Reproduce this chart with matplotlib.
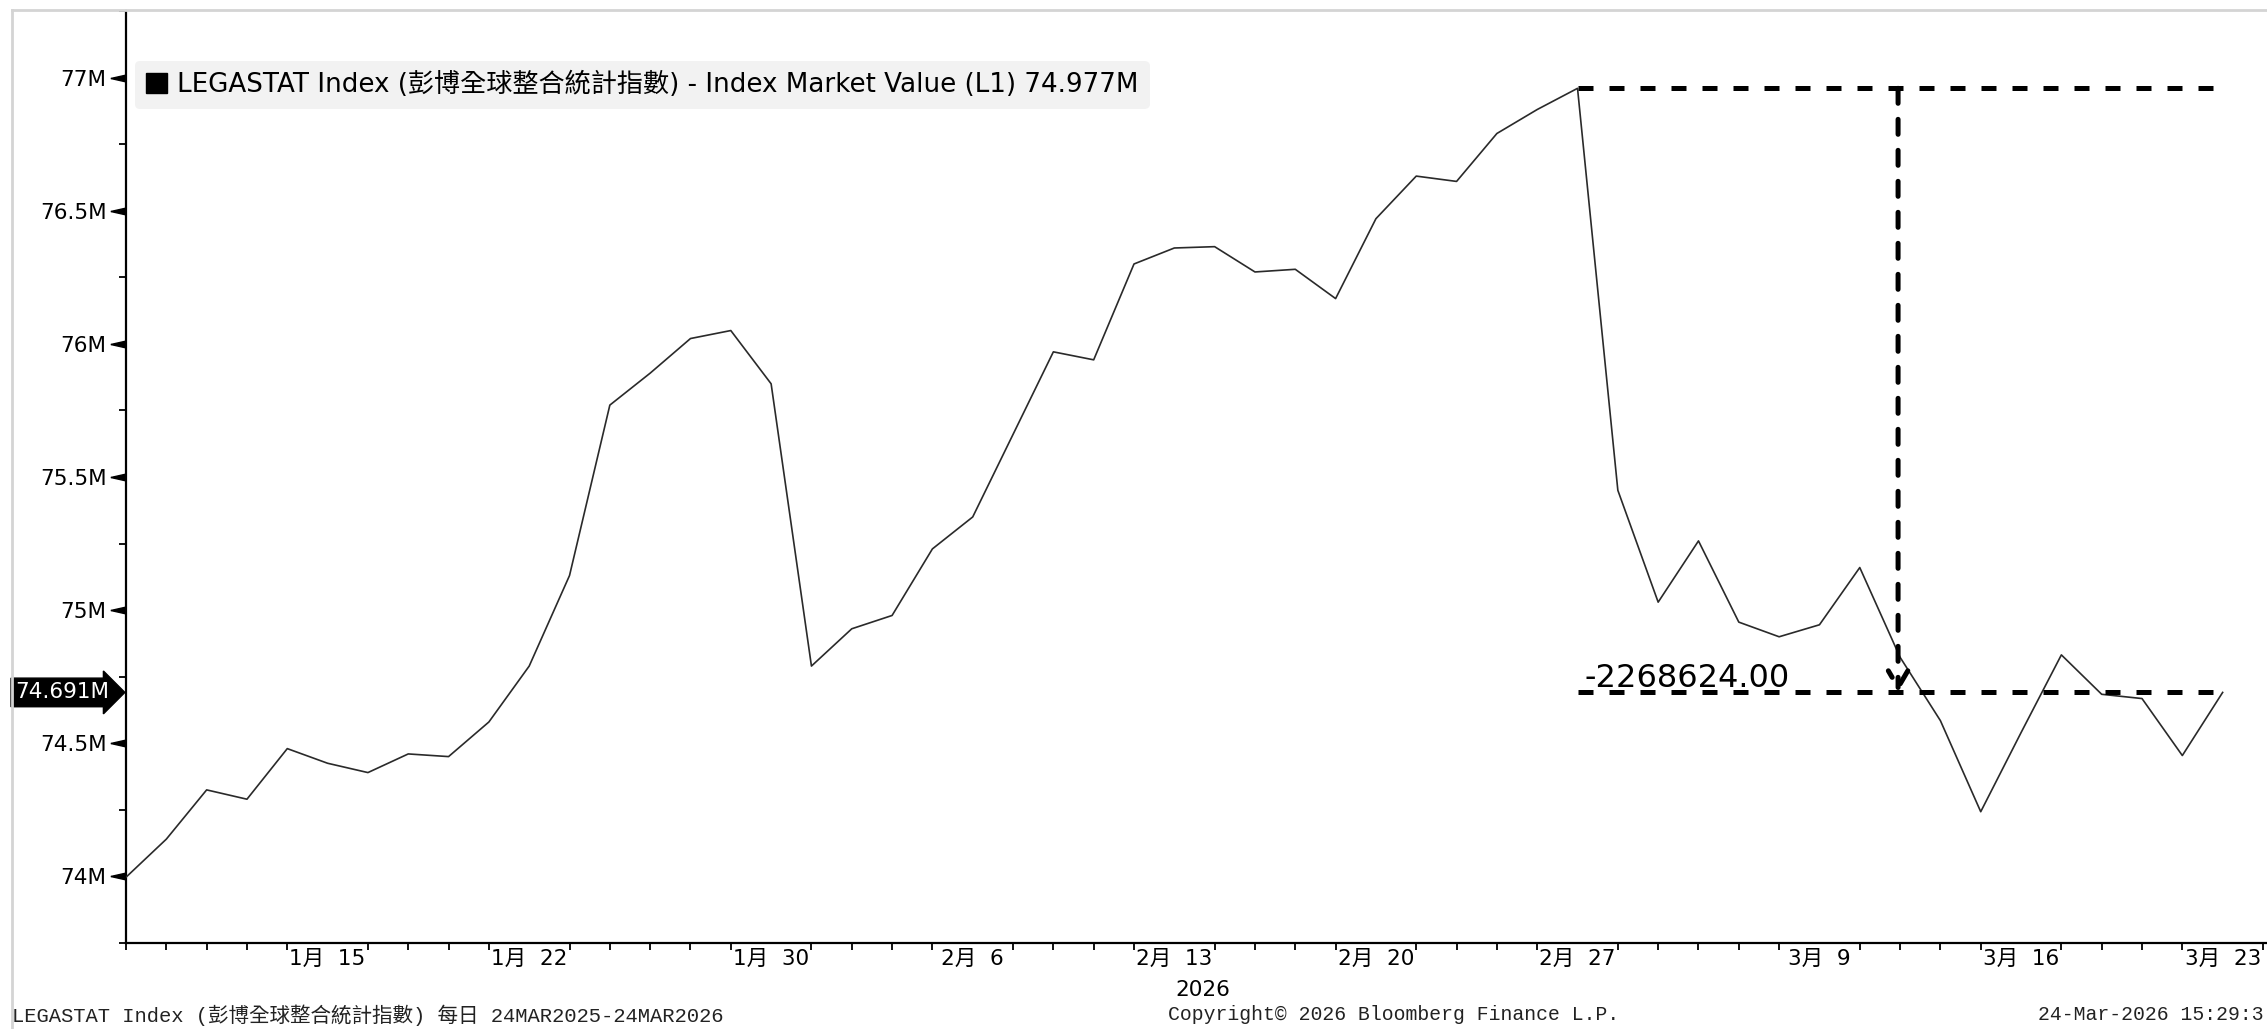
import matplotlib
matplotlib.use("Agg")
import matplotlib.pyplot as plt
import numpy as np
import pandas as pd
from matplotlib.lines import Line2D
from matplotlib.patches import Patch

plt.rcParams['font.family'] = ['DejaVu Sans', 'Noto Sans CJK TC']

# trading days shown on the chart
dates = pd.bdate_range("2026-01-08", "2026-03-23")

# index market value, millions
values = [
    73.997, 74.14, 74.325, 74.29, 74.48, 74.425, 74.39, 74.46, 74.45, 74.58,
    74.79, 75.13, 75.77, 75.89, 76.02, 76.05, 75.85, 74.79, 74.93, 74.98,
    75.23, 75.35, 75.66, 75.97, 75.94, 76.30, 76.36, 76.365, 76.27, 76.28,
    76.17, 76.47, 76.63, 76.61, 76.79, 76.88, 76.959624, 75.45, 75.03, 75.26,
    74.955, 74.90, 74.945, 75.16, 74.823, 74.585, 74.243, 74.54, 74.832, 74.684,
    74.668, 74.454, 74.691,
]

label_dates = ["2026-01-15", "2026-01-22", "2026-01-30", "2026-02-06", "2026-02-13",
               "2026-02-20", "2026-02-27", "2026-03-09", "2026-03-16", "2026-03-23"]
ytick_vals = [74, 74.5, 75, 75.5, 76, 76.5, 77]

legend_text = "LEGASTAT Index (彭博全球整合統計指數) - Index Market Value (L1) 74.977M"
footer_left = "LEGASTAT Index (彭博全球整合統計指數) 每日 24MAR2025-24MAR2026"
footer_mid = "Copyright© 2026 Bloomberg Finance L.P."
footer_right = "24-Mar-2026 15:29:3"

W, H = 2267, 1029
fig = plt.figure(figsize=(W / 100, H / 100), dpi=100)
ax = fig.add_axes([126 / W, 1 - 943 / H, (W - 126) / W, (943 - 11) / H])

x = np.arange(len(values))
ax.plot(x, values, color="#2a2a2a", lw=1.2, zorder=3)

ax.set_xlim(0.23, 53.1)
ax.set_ylim(73.822, 77.202)

for s in ["top", "right"]:
    ax.spines[s].set_visible(False)
for s in ["left", "bottom"]:
    ax.spines[s].set_linewidth(1.6)
    ax.spines[s].set_color("black")

# y axis: labels with small triangle markers, minor ticks between
ax.set_yticks(ytick_vals)
ax.set_yticklabels([f"{v:g}M" for v in ytick_vals])
ax.set_yticks(np.arange(73.75, 77.3, 0.5), minor=True)
ax.tick_params(axis="y", which="major", length=0, pad=14, labelsize=15.5)
ax.tick_params(axis="y", which="minor", length=5, width=1.3)
tri = [(-1, 0), (1, 0.45), (1, -0.45), (-1, 0)]
ax.plot([-0.0036] * len(ytick_vals), ytick_vals, ls="none", marker=tri, ms=11,
        color="black", transform=ax.get_yaxis_transform(), clip_on=False)

# x axis: tick every trading day, labels on selected days
pos = [list(dates).index(pd.Timestamp(d)) for d in label_dates]
labs = [f"{pd.Timestamp(d).month}月  {pd.Timestamp(d).day}" for d in label_dates]
ax.set_xticks(pos)
ax.set_xticklabels(labs)
ax.set_xticks(np.arange(0, len(values) + 1), minor=True)
ax.tick_params(axis="x", which="major", length=0, pad=4, labelsize=15.5)
ax.tick_params(axis="x", which="minor", length=5, width=1.3)

# legend
leg = ax.legend(handles=[Patch(facecolor="black", edgecolor="black")], labels=[legend_text],
                loc="upper left", bbox_to_anchor=(0.0042, 0.9464), borderaxespad=0,
                fontsize=18.8, handlelength=0.8, handleheight=0.8, handletextpad=0.4,
                borderpad=0.42, fancybox=True, framealpha=1)
leg.get_frame().set_facecolor("#f2f2f2")
leg.get_frame().set_edgecolor("none")

# last value tag
last = values[-1]
ax.annotate(f"{last:.3f}M", xy=(0, last), xycoords=ax.get_yaxis_transform(),
            xytext=(-12, 0), textcoords="offset points", ha="right", va="center",
            color="white", fontsize=15.5,
            bbox=dict(boxstyle="rarrow,pad=0.2", fc="black", ec="black"),
            annotation_clip=False)

# drawdown annotation
peak_i = int(np.argmax(values))
peak = values[peak_i]
line_end = len(values) - 1.2
arrow_x = 43.95
dash = (0, (3, 3.2))
ax.plot([peak_i, line_end], [peak, peak], color="black", lw=3.6, ls=dash, zorder=4)
ax.plot([peak_i, line_end], [last, last], color="black", lw=3.6, ls=dash, zorder=4)
ax.annotate("", xy=(arrow_x, last), xytext=(arrow_x, peak),
            arrowprops=dict(arrowstyle="->,head_length=1.2,head_width=0.7", color="black",
                            lw=3.6, ls=(0, (3, 3.2)), shrinkA=0, shrinkB=0), zorder=4)
ax.annotate(f"{(last - peak) * 1e6:.2f}", xy=(peak_i, last), xytext=(5, 4),
            textcoords="offset points", ha="left", va="baseline", fontsize=23,
            color="black")

# year under axis
fig.text(1203 / W, 1 - 990 / H, "2026", ha="center", va="center", fontsize=15.5)

# footer
ffam = ["Liberation Mono", "Noto Sans CJK TC"]
fig.text(12 / W, 1 - 1015 / H, footer_left, ha="left", va="center", fontsize=14.8, family=ffam, color="#222222")
fig.text(1168 / W, 1 - 1015 / H, footer_mid, ha="left", va="center", fontsize=14.2, family=ffam, color="#222222")
fig.text((W - 3) / W, 1 - 1015 / H, footer_right, ha="right", va="center", fontsize=14.2, family=ffam, color="#222222")

# light frame
fig.add_artist(Line2D([12 / W, 1], [1 - 10 / H, 1 - 10 / H], color="#d4d4d4", lw=2))
fig.add_artist(Line2D([12 / W, 12 / W], [0, 1 - 10 / H], color="#d4d4d4", lw=2))

fig.savefig("out.png", dpi=100)
